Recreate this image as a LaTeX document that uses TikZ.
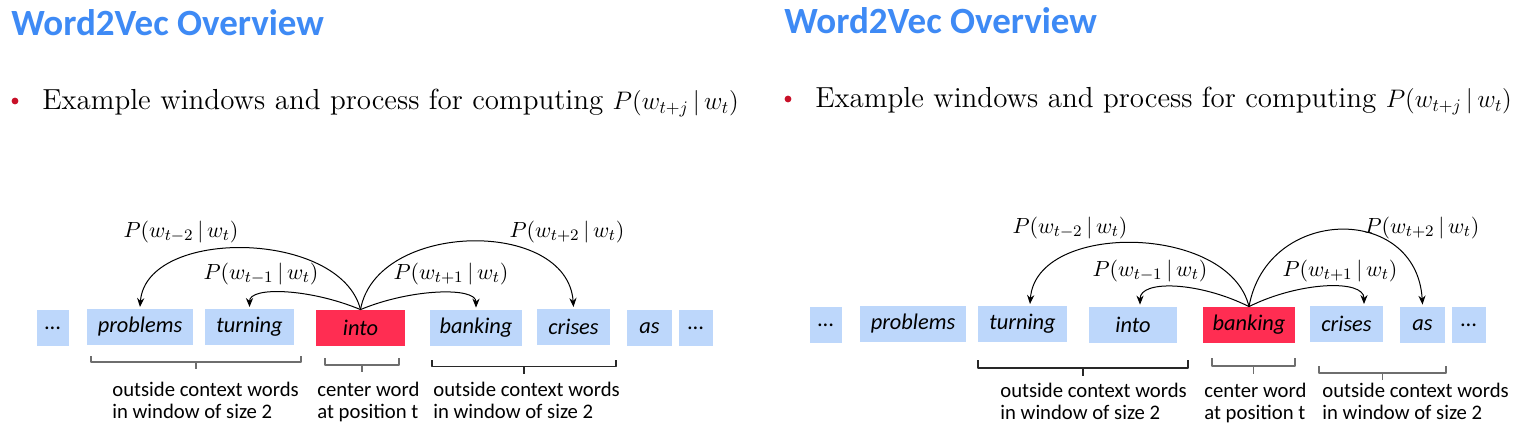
\documentclass[tikz,border=0pt]{standalone}
\usepackage{graphicx}
\usepackage{fontspec}
\newfontfamily\calibri{Carlito}
\usetikzlibrary{arrows.meta}
\definecolor{titleblue}{RGB}{62,138,245}
\definecolor{boxblue}{RGB}{189,215,251}
\definecolor{centerred}{RGB}{255,45,82}
\definecolor{bulletred}{RGB}{200,16,40}
\definecolor{bracegray}{RGB}{110,110,110}
\definecolor{braceblack}{RGB}{40,40,40}
\tikzset{
  wordbox/.style={fill=boxblue, inner sep=0pt, minimum height=18pt,
    font=\calibri\itshape\fontsize{11.2}{13}\selectfont, text=black},
  centerbox/.style={wordbox, fill=centerred},
  ctxarrow/.style={-{Stealth[length=4.5pt,width=3.6pt]}, line width=0.5pt, black},
  problabel/.style={inner sep=0pt, font=\fontsize{11}{13}\selectfont},
  titletext/.style={anchor=base west, inner sep=0pt, text=titleblue,
    font=\calibri\bfseries\fontsize{18.5}{22}\selectfont},
  bullettext/.style={anchor=base west, inner sep=0pt, font=\fontsize{14.5}{17}\selectfont},
  bulletdot/.style={circle, fill=bulletred, inner sep=0pt, minimum size=3.4pt},
  bracetext/.style={anchor=base west, inner sep=0pt, font=\calibri\fontsize{10.35}{11}\selectfont},
  wbrace/.style={line width=0.6pt, line join=round}
}
\newcommand\mybrace[6]{% color, x0, x1, ytop, yh, ytick
  \draw[wbrace,#1] (#2,#4) -- (#2,#5) -- (#3,#5) -- (#3,#4);
  \draw[wbrace,#1] ({(#2+#3)/2},#5) -- ({(#2+#3)/2},#6);
}
\newcommand\bulletmath{\scalebox{0.88}{$P\bigl(w_{t+j}\,|\,w_t\bigr)$}}
\begin{document}
\begin{tikzpicture}[x=0.5pt,y=-0.5pt]
\useasboundingbox[fill=white] (0,0) rectangle (1534,448);

% ---------------- Left panel ----------------
\node[titletext] (tL) at (11,36) {Word2Vec Overview};
\node[bulletdot] (bL) at (15,101) {};
\node[bullettext] (xL) at (42,110) {Example windows and process for computing \bulletmath};

\node[wordbox, minimum width=16pt]   (L0) at (53,328)    {...};
\node[wordbox, minimum width=53pt]   (L1) at (140,327)   {problems};
\node[wordbox, minimum width=44.5pt] (L2) at (249.5,327) {turning};
\node[centerbox, minimum width=44.5pt] (L3) at (360.5,328) {into};
\node[wordbox, minimum width=46pt]   (L4) at (476,328)   {banking};
\node[wordbox, minimum width=36.5pt] (L5) at (573.5,327) {crises};
\node[wordbox, minimum width=22.5pt] (L6) at (649.5,328) {as};
\node[wordbox, minimum width=17pt]   (L7) at (696,328)   {...};

\draw[ctxarrow] (L3.north) .. controls +(-20,-80) and +(6,-80) .. ([yshift=0.8pt]L1.north);
\draw[ctxarrow] (L3.north) .. controls +(-50,-21) and +(0,-21) .. ([yshift=0.8pt]L2.north);
\draw[ctxarrow] (L3.north) .. controls +(50,-21) and +(0,-21) .. ([yshift=1pt]L4.north);
\draw[ctxarrow] (L3.north) .. controls +(16,-89) and +(-6,-89) .. ([yshift=0.8pt]L5.north);

\node[problabel] (pL1) at (181,232) {$P(w_{t-2}\,|\,w_t)$};
\node[problabel] (pL2) at (261,274) {$P(w_{t-1}\,|\,w_t)$};
\node[problabel] (pL3) at (451,274) {$P(w_{t+1}\,|\,w_t)$};
\node[problabel] (pL4) at (567,232) {$P(w_{t+2}\,|\,w_t)$};

\mybrace{bracegray}{91}{301}{356}{362}{369}
\mybrace{bracegray}{325}{399}{358}{365}{372}
\mybrace{braceblack}{432}{616}{360}{366.5}{374}

\node[bracetext] (oL1) at (112,396) {outside context words};
\node[bracetext] (oL2) at (112,418) {in window of size 2};
\node[bracetext] (cL1) at (317,396) {center word};
\node[bracetext] (cL2) at (317,418) {at position t};
\node[bracetext] (rL1) at (433,396) {outside context words};
\node[bracetext] (rL2) at (433,418) {in window of size 2};

% ---------------- Right panel ----------------
\node[titletext] (tR) at (784,34) {Word2Vec Overview};
\node[bulletdot] (bR) at (788,99) {};
\node[bullettext] (xR) at (815,108) {Example windows and process for computing \bulletmath};

\node[wordbox, minimum width=16pt]   (R0) at (826,325)    {...};
\node[wordbox, minimum width=53pt]   (R1) at (913,324)    {problems};
\node[wordbox, minimum width=44.5pt] (R2) at (1022.5,324) {turning};
\node[wordbox, minimum width=44pt]   (R3) at (1133,325)   {into};
\node[centerbox, minimum width=46pt] (R4) at (1249,325)   {banking};
\node[wordbox, minimum width=36.5pt] (R5) at (1346.5,324) {crises};
\node[wordbox, minimum width=22.5pt] (R6) at (1422.5,325) {as};
\node[wordbox, minimum width=17pt]   (R7) at (1469,325)   {...};

\draw[ctxarrow] (R4.north) .. controls +(-20,-83) and +(6,-83) .. ([xshift=3.75pt,yshift=0.8pt]R2.north);
\draw[ctxarrow] (R4.north) .. controls +(-50,-25) and +(0,-25) .. ([xshift=3.5pt,yshift=1pt]R3.north);
\draw[ctxarrow] (R4.north) .. controls +(50,-25) and +(0,-25) .. ([xshift=8.75pt,yshift=0.8pt]R5.north);
\draw[ctxarrow] (R4.north) .. controls +(18,-101) and +(-6,-101) .. ([yshift=1pt]R6.north);

\node[problabel] (pR1) at (1070,228) {$P(w_{t-2}\,|\,w_t)$};
\node[problabel] (pR2) at (1150,271) {$P(w_{t-1}\,|\,w_t)$};
\node[problabel] (pR3) at (1340,271) {$P(w_{t+1}\,|\,w_t)$};
\node[problabel] (pR4) at (1422,228) {$P(w_{t+2}\,|\,w_t)$};

\mybrace{braceblack}{978}{1188}{360}{368}{376}
\mybrace{bracegray}{1212}{1295}{358}{366}{374}
\mybrace{bracegray}{1319}{1446}{366}{373}{380}

\node[bracetext] (oR1) at (1000,397) {outside context words};
\node[bracetext] (oR2) at (1000,419) {in window of size 2};
\node[bracetext] (cR1) at (1204,397) {center word};
\node[bracetext] (cR2) at (1204,419) {at position t};
\node[bracetext] (rR1) at (1322,397) {outside context words};
\node[bracetext] (rR2) at (1322,419) {in window of size 2};
\end{tikzpicture}
\end{document}
